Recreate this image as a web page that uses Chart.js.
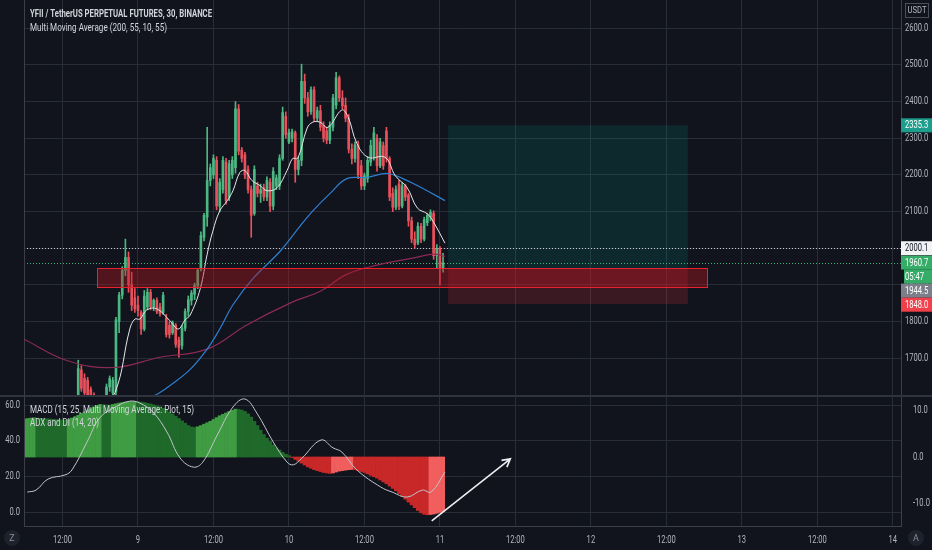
<!DOCTYPE html>
<html>
<head>
<meta charset="utf-8">
<script src="https://cdn.jsdelivr.net/npm/chart.js@4.4.0/dist/chart.umd.min.js"></script>
<style>
  html, body { margin: 0; padding: 0; background: #11141c; }
  #wrap { position: relative; width: 932px; height: 550px; overflow: hidden; background: #11141c; }
  #main { position: absolute; left: 0; top: 0; }
  #osc { position: absolute; left: 0; top: 395px; }
</style>
</head>
<body>
<div id="wrap">
  <canvas id="main" width="932" height="395"></canvas>
  <canvas id="osc" width="932" height="155"></canvas>
</div>
<script>
// --- data: 30 min candles, hours counted from 8th 00:00 ---
const firstCandleHour = 14.5;
const opens  = [1600,1668,1645,1640,1615,1600,1590,1568,1580,1588,1622,1605,1610,1800,1872,1940,1975,1900,1865,1845,1825,1780,1840,1880,1840,1858,1840,1825,1810,1790,1770,1790,1750,1735,1782,1828,1858,1875,1898,1945,2030,2085,2185,2200,2240,2115,2160,2235,2140,2200,2220,2380,2268,2255,2215,2160,2095,2170,2150,2165,2140,2180,2115,2170,2170,2245,2360,2290,2300,2315,2215,2240,2455,2410,2372,2432,2355,2375,2335,2320,2295,2330,2390,2465,2410,2390,2355,2270,2245,2282,2225,2170,2190,2235,2250,2300,2225,2280,2320,2245,2150,2112,2175,2115,2170,2145,2075,2025,2015,2060,2025,2070,2085,2095,1980,2000,1945];
const highs  = [1695,1680,1658,1648,1622,1606,1596,1588,1594,1630,1652,1648,1812,1880,1950,2025,1990,1935,1890,1870,1830,1885,1890,1888,1862,1865,1850,1880,1820,1800,1802,1795,1758,1790,1835,1870,1885,1905,1945,2045,2095,2330,2230,2255,2250,2190,2250,2245,2240,2250,2400,2392,2275,2262,2225,2170,2225,2180,2175,2175,2195,2190,2220,2200,2255,2385,2372,2325,2325,2320,2250,2502,2475,2425,2440,2440,2385,2390,2345,2330,2345,2420,2480,2470,2430,2410,2365,2285,2290,2292,2240,2205,2250,2295,2330,2310,2300,2290,2330,2250,2165,2170,2185,2180,2175,2150,2085,2045,2070,2068,2085,2095,2105,2102,2010,2005,1986];
const lows   = [1585,1610,1598,1592,1588,1582,1560,1555,1566,1580,1610,1598,1600,1770,1862,1925,1880,1830,1825,1815,1765,1775,1832,1832,1830,1822,1815,1820,1758,1755,1765,1730,1703,1725,1775,1815,1845,1860,1890,1938,2020,2060,2170,2190,2105,2100,2150,2120,2130,2190,2205,2255,2235,2190,2150,2030,2090,2140,2125,2130,2130,2100,2105,2160,2160,2240,2300,2285,2290,2180,2200,2225,2395,2360,2365,2345,2345,2320,2290,2285,2285,2320,2380,2400,2380,2345,2260,2230,2235,2190,2160,2160,2180,2225,2240,2210,2220,2215,2235,2130,2100,2105,2105,2110,2130,2060,2015,2000,2010,2015,2020,2062,2075,1970,1945,1900,1935];
const closes = [1672,1618,1606,1598,1594,1590,1568,1580,1588,1622,1645,1640,1805,1872,1940,1975,1900,1845,1835,1830,1780,1870,1880,1840,1858,1828,1822,1872,1765,1765,1798,1738,1730,1782,1828,1860,1878,1898,1940,2035,2090,2185,2220,2245,2115,2180,2240,2130,2230,2240,2380,2265,2245,2200,2160,2090,2215,2150,2160,2140,2185,2115,2210,2192,2245,2370,2310,2315,2318,2215,2240,2455,2410,2372,2432,2355,2375,2330,2300,2295,2335,2410,2465,2410,2388,2355,2270,2245,2282,2200,2170,2198,2240,2280,2315,2225,2290,2225,2245,2140,2112,2160,2115,2170,2140,2075,2025,2010,2060,2025,2078,2090,2098,1980,2000,1945,1960.7];

// moving averages (hour, price)
const ma10Hours = [18, 20.35, 22.7, 23.5, 24.3, 25.4, 27, 29.1, 30.4, 31.5, 32.3, 33.9, 35, 35.9, 37, 38.2, 39.1, 40.2, 41, 42.1, 43.4, 44.5, 46.1, 47.7, 48.6, 49.4, 50.9, 51.8, 52.9, 54.2, 56.4, 57.4, 58.8, 60.6, 63.3, 64.9, 66.8, 68.4, 70, 70.9, 72.8];
const ma10 = [1575, 1607, 1780, 1807, 1807, 1832, 1835, 1802, 1780, 1805, 1818, 1890, 1984, 2047, 2102, 2130, 2157, 2207, 2212, 2185, 2171, 2157, 2165, 2212, 2245, 2245, 2328, 2344, 2344, 2330, 2377, 2358, 2286, 2248, 2248, 2198, 2165, 2110, 2094, 2074, 2014];
const ma55Hours = [20, 25.9, 27.5, 29.1, 32.3, 35, 37, 39.1, 42.3, 46.6, 49.8, 51.8, 54.5, 57.2, 60.4, 63.6, 66.1, 69.3, 72.8];
const ma55 = [1560, 1593, 1607, 1626, 1670, 1725, 1780, 1846, 1918, 1992, 2061, 2102, 2149, 2190, 2193, 2204, 2190, 2163, 2130];
const ma200Hours = [5.9, 12.7, 20, 27.5, 35, 41.3, 48.6, 52.9, 57.2, 62.5, 67.7, 70.9, 72.8];
const ma200 = [1752, 1694, 1675, 1703, 1725, 1791, 1854, 1882, 1929, 1956, 1973, 1984, 1978];

// MACD histogram, one bar per 30 min candle
const histFirstHour = 6;
const histValues = [
    8.1, 8.2, 8.3, 8.35, 8.3, 8.25, 8.2, 8.15, 8.1, 8.05, 8.0, 7.95, 7.9, 7.85,
    8.0, 8.3, 8.6, 8.9, 9.3, 9.6, 10.0, 10.3, 10.7, 11.0, 11.2,
    11.15, 11.1, 11.05,
    11.2, 11.35, 11.5, 11.6, 11.7, 11.75, 11.8, 11.85,
    11.8, 11.7, 11.6, 11.45, 11.3, 11.1, 10.9, 10.7, 10.4, 10.0, 9.6, 9.2, 8.7, 8.2, 7.7, 7.2, 6.7, 6.4, 6.3,
    6.45, 6.7, 7.0, 7.3, 7.6, 8.0, 8.4, 8.8, 9.1, 9.4, 9.7, 9.95, 10.2,
    10.15, 10.0, 9.7, 9.2, 8.5, 7.6, 6.7, 5.7, 4.8, 4.0, 3.3, 2.6, 2.0, 1.5, 1.0, 0.6, 0.3,
    -0.1, -0.5, -0.9, -1.3, -1.7, -2.1, -2.4, -2.7, -2.9, -3.1, -3.3, -3.4, -3.5,
    -3.4, -3.2, -3.0, -2.9, -2.8, -2.7, -2.65,
    -2.7, -2.9, -3.1, -3.3, -3.6, -3.9, -4.2, -4.5, -4.9, -5.3, -5.7, -6.2, -6.7, -7.2, -7.8, -8.4, -9.0, -9.6, -10.2, -10.8, -11.4, -11.9, -12.2, -12.3,
    -12.25, -12.15, -12.0, -11.8, -11.6
];

// ADX line (hour, value)
const adxHours = [6.4, 7.8, 9.7, 12.4, 13.5, 15.9, 17.9, 20.4, 22.7, 24.3, 26.4, 28.6, 30.7, 32.8, 34.3, 36.6, 39.1, 41.0, 42.9, 45.5, 47.7, 48.7, 50.0, 53.1, 55.0, 56.4, 58.8, 62.6, 64.4, 66.8, 69.2, 70.6, 72.8];
const adxValues = [11.2, 12.3, 18.5, 20.8, 23.6, 39.3, 52.7, 58.9, 62.2, 61.1, 56, 44.9, 30.3, 25.2, 28, 43.2, 58.9, 63.4, 55.5, 39.3, 28, 26.5, 30, 40.4, 36, 33.7, 23.6, 14, 11.2, 8.4, 12.3, 11.2, 22.4];

// axes
const priceTicks = [1700, 1800, 1900, 2000, 2100, 2200, 2300, 2400, 2500, 2600];
const adxTicks = [0, 20, 40, 60];
const macdTicks = [-10, 0, 10];
const timeTickHours = [12, 24, 36, 48, 60, 72, 84, 96, 108, 120, 132, 144];
const timeTickLabels = ['12:00', '9', '12:00', '10', '12:00', '11', '12:00', '12', '12:00', '13', '12:00', '14'];

// drawings: [hourFrom, hourTo, priceTop, priceBottom]
const zoneBox = [17.5, 114.5, 1946, 1894];
const targetBox = [73.3, 111.4, 2335.3, 1944.5];
const stopBox = [73.3, 111.4, 1944.5, 1848.0];
const markPrice = 2000.1;
const lastPrice = 1960.7;
const arrowFrom = [70.7, -13.6];
const arrowTo = [83.2, -0.4];

const FONT = "Roboto, 'Liberation Sans', sans-serif";
const NARROW = 0.76;
const textColor = '#b2b5be';
const gridColor = '#292d38';
const borderColor = '#3b3f4a';
const upColor = '#4cb782';
const downColor = '#e8505c';
const xMin = 5.88, xMax = 145.3;

Chart.defaults.font.family = FONT;
Chart.defaults.font.size = 10;
Chart.defaults.color = textColor;

const candleHours = opens.map((o, i) => firstCandleHour + i * 0.5);
const candleColors = opens.map((o, i) => closes[i] >= o ? upColor : downColor);
const toPoints = (xs, ys) => xs.map((x, i) => ({ x: x, y: ys[i] }));

// keep the axes tight to the canvas edges
function noPad(s) {
    s.paddingTop = 0; s.paddingBottom = 0; s.paddingLeft = 0; s.paddingRight = 0;
}

// squeeze text horizontally round its anchor, like the condensed chart font
function narrowText(ctx, text, x, y, k) {
    ctx.save();
    ctx.translate(x, y);
    ctx.scale(k, 1);
    ctx.fillText(text, 0, 0);
    ctx.restore();
}
function fitText(ctx, text, x, y, width) {
    narrowText(ctx, text, x, y, width / ctx.measureText(text).width);
}

// tick labels drawn by the library, squeezed the same way
const narrowTicks = {
    id: 'narrowTicks',
    beforeDraw(chart) {
        Object.values(chart.scales).forEach(s => {
            if (s._narrow) return;
            const orig = s.drawLabels.bind(s);
            s.drawLabels = function (area) {
                const ctx = this.ctx;
                const fill = ctx.fillText;
                ctx.fillText = function (t, x, y, mw) {
                    this.save();
                    this.translate(x, y);
                    this.scale(NARROW, 1);
                    fill.call(this, t, 0, 0, mw);
                    this.restore();
                };
                orig(area);
                delete ctx.fillText;
            };
            s._narrow = true;
        });
    }
};

const mainOverlay = {
    id: 'mainOverlay',
    beforeDatasetsDraw(chart) {
        const { ctx, chartArea: a, scales: { x, y } } = chart;
        ctx.save();
        // position tool
        ctx.fillStyle = 'rgba(0, 150, 136, 0.17)';
        ctx.fillRect(x.getPixelForValue(targetBox[0]), y.getPixelForValue(targetBox[2]),
            x.getPixelForValue(targetBox[1]) - x.getPixelForValue(targetBox[0]),
            y.getPixelForValue(targetBox[3]) - y.getPixelForValue(targetBox[2]));
        ctx.fillStyle = 'rgba(230, 45, 60, 0.2)';
        ctx.fillRect(x.getPixelForValue(stopBox[0]), y.getPixelForValue(stopBox[2]),
            x.getPixelForValue(stopBox[1]) - x.getPixelForValue(stopBox[0]),
            y.getPixelForValue(stopBox[3]) - y.getPixelForValue(stopBox[2]));
        // price lines
        ctx.setLineDash([1, 2]);
        ctx.lineWidth = 1;
        ctx.strokeStyle = '#c9cbd1';
        let py = Math.round(y.getPixelForValue(markPrice)) + 0.5;
        ctx.beginPath(); ctx.moveTo(a.left, py); ctx.lineTo(a.right, py); ctx.stroke();
        ctx.strokeStyle = '#3bb27a';
        py = Math.round(y.getPixelForValue(lastPrice)) + 0.5;
        ctx.beginPath(); ctx.moveTo(a.left, py); ctx.lineTo(a.right, py); ctx.stroke();
        ctx.setLineDash([]);
        // left border
        ctx.strokeStyle = borderColor;
        ctx.beginPath(); ctx.moveTo(a.left + 0.5, a.top); ctx.lineTo(a.left + 0.5, a.bottom); ctx.stroke();
        ctx.restore();
    },
    afterDatasetsDraw(chart) {
        const { ctx, scales: { x, y } } = chart;
        const x0 = x.getPixelForValue(zoneBox[0]), x1 = x.getPixelForValue(zoneBox[1]);
        const y0 = y.getPixelForValue(zoneBox[2]), y1 = y.getPixelForValue(zoneBox[3]);
        ctx.save();
        ctx.fillStyle = 'rgba(190, 20, 32, 0.38)';
        ctx.fillRect(x0, y0, x1 - x0, y1 - y0);
        ctx.strokeStyle = '#e8232f';
        ctx.lineWidth = 1;
        ctx.strokeRect(Math.round(x0) + 0.5, Math.round(y0) + 0.5, Math.round(x1 - x0), Math.round(y1 - y0));
        ctx.restore();
    },
    afterDraw(chart) {
        const { ctx, chartArea: a, scales: { y } } = chart;
        ctx.save();
        ctx.textBaseline = 'middle';
        ctx.fillStyle = '#d1d4dc';
        ctx.font = 'bold 11px ' + FONT;
        fitText(ctx, 'YFII / TetherUS PERPETUAL FUTURES, 30, BINANCE', 30, 14, 182);
        ctx.font = '11px ' + FONT;
        fitText(ctx, 'Multi Moving Average (200, 55, 10, 55)', 30, 28, 137);

        // currency box
        ctx.strokeStyle = '#4a4e59';
        ctx.strokeRect(905.5, 3.5, 23, 14);
        ctx.fillStyle = textColor;
        ctx.font = '9px ' + FONT;
        ctx.textAlign = 'center';
        narrowText(ctx, 'USDT', 917, 11, 0.85);

        // price badges, pushed down when they overlap
        const badges = [
            { t: '2335.3', p: 2335.3, bg: '#1f9d8c', fg: '#ffffff' },
            { t: '2000.1', p: markPrice, bg: '#f2f3f5', fg: '#131722' },
            { t: '1960.7', p: lastPrice, bg: '#35ad68', fg: '#ffffff' },
            { t: '05:47', p: null, bg: '#35ad68', fg: '#ffffff' },
            { t: '1944.5', p: 1944.5, bg: '#7c7f8a', fg: '#ffffff' },
            { t: '1848.0', p: 1848.0, bg: '#f0404a', fg: '#ffffff' }
        ];
        let prev = -100;
        ctx.textAlign = 'left';
        ctx.font = '10px ' + FONT;
        badges.forEach(b => {
            const cy = b.p === null ? prev + 14 : Math.max(y.getPixelForValue(b.p), prev + 14);
            prev = cy;
            ctx.fillStyle = b.bg;
            ctx.fillRect(a.right, cy - 7, 932 - a.right, 14);
            if (b.p === null) {
                ctx.fillStyle = '#11141c';
                ctx.fillRect(a.right, cy - 7, 3, 14);
            }
            ctx.fillStyle = b.fg;
            narrowText(ctx, b.t, a.right + 4, cy + 0.5, NARROW);
        });
        ctx.restore();
    }
};

new Chart(document.getElementById('main'), {
    type: 'bar',
    data: {
        datasets: [
            {
                type: 'line', label: 'MA 10', data: toPoints(ma10Hours, ma10),
                borderColor: '#e6e7ea', borderWidth: 1, pointRadius: 0, tension: 0.4, order: 0
            },
            {
                type: 'line', label: 'MA 55', data: toPoints(ma55Hours, ma55),
                borderColor: '#2e7fd0', borderWidth: 1.2, pointRadius: 0, tension: 0.4, order: 0
            },
            {
                type: 'line', label: 'MA 200', data: toPoints(ma200Hours, ma200),
                borderColor: '#8c2a56', borderWidth: 1.2, pointRadius: 0, tension: 0.4, order: 0
            },
            {
                label: 'wick', data: candleHours.map((h, i) => ({ x: h, y: [lows[i], highs[i]] })),
                backgroundColor: candleColors, barThickness: 1, grouped: false, order: 3
            },
            {
                label: 'body', data: candleHours.map((h, i) => ({ x: h, y: [opens[i], closes[i]] })),
                backgroundColor: candleColors, barThickness: 2, grouped: false, order: 2
            }
        ]
    },
    options: {
        responsive: false,
        animation: false,
        devicePixelRatio: 1,
        layout: { padding: { left: 24, right: 0, top: 0, bottom: 0 }, autoPadding: false },
        plugins: { legend: { display: false }, tooltip: { enabled: false } },
        scales: {
            x: {
                type: 'linear', min: xMin, max: xMax, offset: false,
                grid: { color: gridColor, drawTicks: false, offset: false },
                border: { display: false },
                ticks: { display: false },
                afterBuildTicks: s => { s.ticks = timeTickHours.map(v => ({ value: v })); },
                afterFit: s => { s.height = 0; noPad(s); }
            },
            y: {
                position: 'right', min: 1600, max: 2677,
                grid: { color: gridColor, drawTicks: false },
                border: { color: borderColor },
                ticks: { padding: 4, callback: v => v.toFixed(1) },
                afterBuildTicks: s => { s.ticks = priceTicks.map(v => ({ value: v })); },
                afterFit: s => { s.width = 31; noPad(s); }
            }
        }
    },
    plugins: [narrowTicks, mainOverlay]
});

// --- oscillator panel ---
const histHours = histValues.map((v, i) => histFirstHour + i * 0.5);
const histColors = histValues.map((v, i) => {
    const rising = i === 0 || v >= histValues[i - 1];
    if (v >= 0) return rising ? '#3f9c43' : '#1f6a2a';
    return rising ? '#f15e5e' : '#c82828';
});

const oscOverlay = {
    id: 'oscOverlay',
    afterDraw(chart) {
        const { ctx, chartArea: a, scales: { x, yMacd } } = chart;
        ctx.save();
        // panel separator
        ctx.fillStyle = '#2f333e';
        ctx.fillRect(0, 0, 932, 2);
        ctx.strokeStyle = borderColor;
        ctx.beginPath(); ctx.moveTo(a.left + 0.5, a.top); ctx.lineTo(a.left + 0.5, a.bottom); ctx.stroke();

        ctx.fillStyle = '#d1d4dc';
        ctx.font = '11px ' + FONT;
        ctx.textBaseline = 'middle';
        fitText(ctx, 'MACD (15, 25, Multi Moving Average: Plot, 15)', 30, 15, 164);
        fitText(ctx, 'ADX and DI (14, 20)', 30, 28, 69);

        // arrow
        const ax0 = x.getPixelForValue(arrowFrom[0]), ay0 = yMacd.getPixelForValue(arrowFrom[1]);
        const ax1 = x.getPixelForValue(arrowTo[0]), ay1 = yMacd.getPixelForValue(arrowTo[1]);
        const ang = Math.atan2(ay1 - ay0, ax1 - ax0);
        ctx.strokeStyle = '#eceef2';
        ctx.lineWidth = 1.6;
        ctx.beginPath();
        ctx.moveTo(ax0, ay0); ctx.lineTo(ax1, ay1);
        ctx.moveTo(ax1 - 9 * Math.cos(ang - 0.5), ay1 - 9 * Math.sin(ang - 0.5));
        ctx.lineTo(ax1, ay1);
        ctx.lineTo(ax1 - 9 * Math.cos(ang + 0.5), ay1 - 9 * Math.sin(ang + 0.5));
        ctx.stroke();

        // corner buttons
        ctx.lineWidth = 1;
        ctx.textAlign = 'center';
        ctx.font = '9px ' + FONT;
        [[12, 'Z'], [916, 'A']].forEach(([cx, t]) => {
            ctx.fillStyle = '#1e222c';
            ctx.beginPath(); ctx.arc(cx, 143, 8, 0, Math.PI * 2); ctx.fill();
            ctx.fillStyle = '#8a8e99';
            ctx.fillText(t, cx, 143.5);
        });
        ctx.restore();
    }
};

new Chart(document.getElementById('osc'), {
    type: 'bar',
    data: {
        datasets: [
            {
                type: 'line', label: 'ADX', data: toPoints(adxHours, adxValues), yAxisID: 'yAdx',
                borderColor: '#c3c5cc', borderWidth: 1, pointRadius: 0, tension: 0.4, order: 0
            },
            {
                label: 'Histogram', data: toPoints(histHours, histValues), yAxisID: 'yMacd',
                backgroundColor: histColors, barPercentage: 1, categoryPercentage: 1, order: 1
            }
        ]
    },
    options: {
        responsive: false,
        animation: false,
        devicePixelRatio: 1,
        layout: { padding: { left: 0, right: 0, top: 1, bottom: 0 }, autoPadding: false },
        plugins: { legend: { display: false }, tooltip: { enabled: false } },
        scales: {
            x: {
                type: 'linear', min: xMin, max: xMax, offset: false,
                grid: { color: gridColor, drawTicks: false, offset: false },
                border: { color: borderColor },
                ticks: {
                    padding: 8, maxRotation: 0, autoSkip: false,
                    callback: v => timeTickLabels[timeTickHours.indexOf(v)]
                },
                afterBuildTicks: s => { s.ticks = timeTickHours.map(v => ({ value: v })); },
                afterFit: s => { s.height = 24; noPad(s); }
            },
            yAdx: {
                position: 'left', min: -7.85, max: 65.1,
                grid: { color: gridColor, drawTicks: false },
                border: { display: false },
                ticks: { padding: 4, callback: v => v.toFixed(1) },
                afterBuildTicks: s => { s.ticks = adxTicks.map(v => ({ value: v })); },
                afterFit: s => { s.width = 24; noPad(s); }
            },
            yMacd: {
                position: 'right', min: -14.7, max: 13.0,
                grid: { display: false },
                border: { color: borderColor },
                ticks: { padding: 4, callback: v => v.toFixed(1) },
                afterBuildTicks: s => { s.ticks = macdTicks.map(v => ({ value: v })); },
                afterFit: s => { s.width = 31; noPad(s); }
            }
        }
    },
    plugins: [narrowTicks, oscOverlay]
});
</script>
</body>
</html>
